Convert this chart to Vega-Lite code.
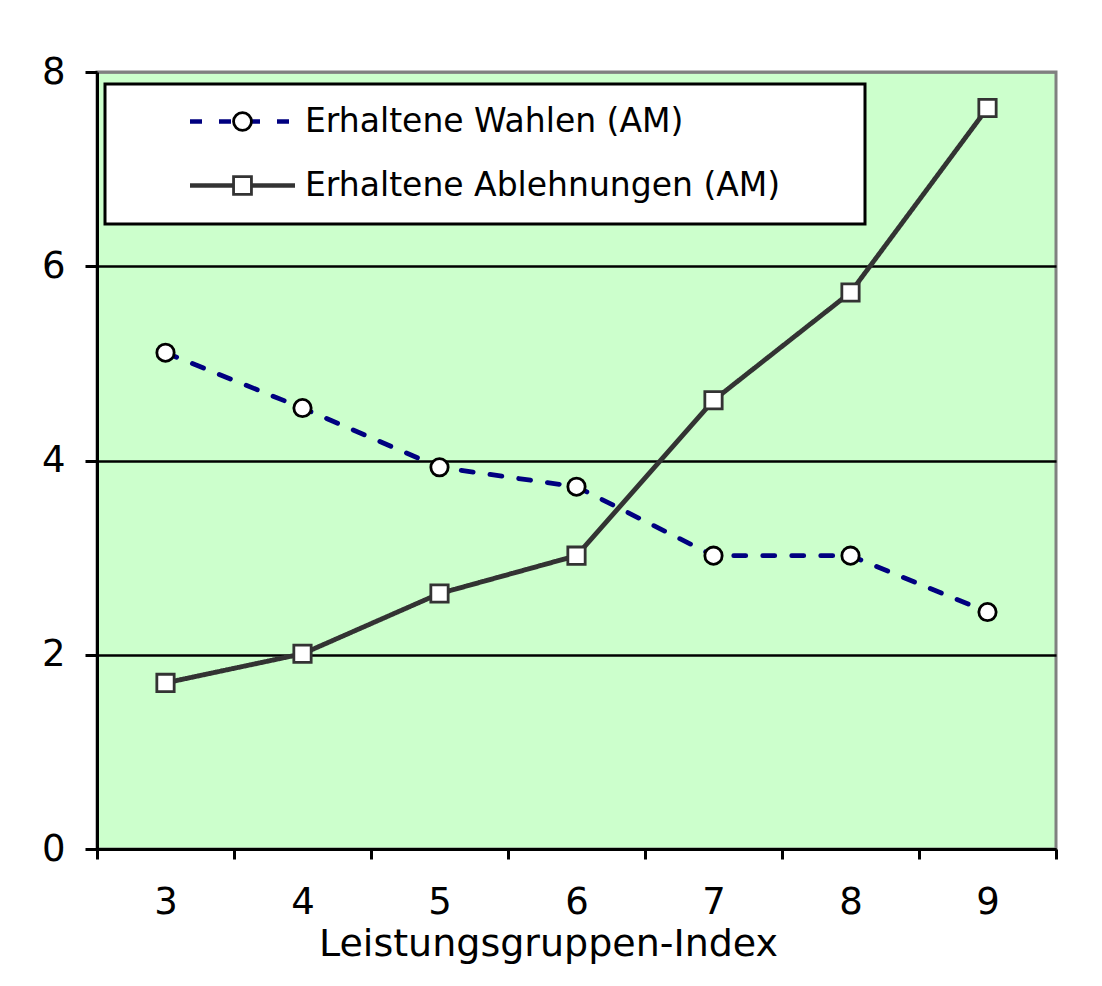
{
  "$schema": "https://vega.github.io/schema/vega-lite/v6.json",
  "autosize": {"type": "none"},
  "padding": {"left": 97, "top": 72, "right": 46, "bottom": 137},
  "width": 959,
  "height": 777,
  "background": "white",
  "config": {
    "view": {"fill": "#CCFFCC", "stroke": "#808080", "strokeWidth": 3},
    "font": "DejaVu Sans",
    "legend": {"strokeWidth": 3},
    "axis": {
      "labelFont": "DejaVu Sans",
      "labelFontSize": 37,
      "labelColor": "black",
      "titleFont": "DejaVu Sans",
      "titleFontSize": 38,
      "titleFontWeight": "normal",
      "titleColor": "black",
      "domainColor": "black",
      "domainWidth": 3,
      "tickColor": "black",
      "tickWidth": 3
    }
  },
  "data": {
    "values": [
      {"g": "3", "serie": "Erhaltene Wahlen (AM)", "v": 5.11},
      {"g": "4", "serie": "Erhaltene Wahlen (AM)", "v": 4.54},
      {"g": "5", "serie": "Erhaltene Wahlen (AM)", "v": 3.93},
      {"g": "6", "serie": "Erhaltene Wahlen (AM)", "v": 3.73},
      {"g": "7", "serie": "Erhaltene Wahlen (AM)", "v": 3.02},
      {"g": "8", "serie": "Erhaltene Wahlen (AM)", "v": 3.02},
      {"g": "9", "serie": "Erhaltene Wahlen (AM)", "v": 2.44},
      {"g": "3", "serie": "Erhaltene Ablehnungen (AM)", "v": 1.71},
      {"g": "4", "serie": "Erhaltene Ablehnungen (AM)", "v": 2.01},
      {"g": "5", "serie": "Erhaltene Ablehnungen (AM)", "v": 2.63},
      {"g": "6", "serie": "Erhaltene Ablehnungen (AM)", "v": 3.02},
      {"g": "7", "serie": "Erhaltene Ablehnungen (AM)", "v": 4.62},
      {"g": "8", "serie": "Erhaltene Ablehnungen (AM)", "v": 5.73},
      {"g": "9", "serie": "Erhaltene Ablehnungen (AM)", "v": 7.63}
    ]
  },
  "encoding": {
    "x": {
      "field": "g",
      "type": "ordinal",
      "bandPosition": 0.5,
      "scale": {"type": "band", "paddingInner": 0, "paddingOuter": 0},
      "axis": {
        "title": "Leistungsgruppen-Index",
        "labelAngle": 0,
        "tickBand": "extent",
        "tickSize": 10,
        "labelPadding": 25,
        "titlePadding": 5,
        "titleX": 451,
        "grid": false
      }
    },
    "y": {
      "field": "v",
      "type": "quantitative",
      "scale": {"domain": [0, 8], "nice": false, "zero": true},
      "axis": {
        "title": null,
        "values": [0, 2, 4, 6, 8],
        "tickSize": 12,
        "labelPadding": 20,
        "grid": true,
        "gridColor": {"condition": {"test": "datum.value == 8", "value": "#808080"}, "value": "black"},
        "gridWidth": 2.5
      }
    }
  },
  "layer": [
    {
      "mark": {"type": "line", "strokeCap": "round", "strokeJoin": "round", "strokeWidth": 4.8},
      "encoding": {
        "color": {
          "field": "serie",
          "type": "nominal",
          "scale": {"domain": ["Erhaltene Wahlen (AM)", "Erhaltene Ablehnungen (AM)"], "range": ["#000080", "#333333"]},
          "legend": {
            "title": null,
            "orient": "none",
            "legendX": 8,
            "legendY": 12,
            "zindex": 1,
            "padding": 21,
            "fillColor": "white",
            "strokeColor": "black",
            "symbolType": "M-3.889,0L3.889,0",
            "symbolSize": 729,
            "symbolStrokeWidth": 4.5,
            "symbolOffset": 100,
            "labelOffset": 46,
            "rowPadding": 30,
            "labelFont": "DejaVu Sans",
            "labelFontSize": 33,
            "labelColor": "black",
            "labelLimit": 0,
            "labelExpr": "datum.label + '\u00a0\u00a0\u00a0\u00a0\u00a0\u00a0\u200b'"
          }
        },
        "strokeDash": {
          "field": "serie",
          "type": "nominal",
          "scale": {"domain": ["Erhaltene Wahlen (AM)", "Erhaltene Ablehnungen (AM)"], "range": [[12, 17], [1, 0]]},
          "legend": null
        }
      }
    },
    {
      "mark": {"type": "point", "filled": true, "fill": "white", "size": 300, "strokeWidth": 2.8, "opacity": 1},
      "encoding": {
        "shape": {
          "field": "serie",
          "type": "nominal",
          "scale": {"domain": ["Erhaltene Wahlen (AM)", "Erhaltene Ablehnungen (AM)", "-"], "range": ["circle", "square", "circle"]},
          "legend": {
            "title": null,
            "orient": "none",
            "legendX": 8,
            "legendY": 12,
            "zindex": 2,
            "padding": 21,
            "values": ["Erhaltene Wahlen (AM)", "Erhaltene Ablehnungen (AM)"],
            "symbolSize": 320,
            "symbolStrokeWidth": 2.8,
            "symbolFillColor": "white",
            "symbolOffset": 100,
            "labelOffset": 46,
            "rowPadding": 30,
            "labelFont": "DejaVu Sans",
            "labelFontSize": 33,
            "labelOpacity": 0,
            "labelLimit": 0,
            "labelExpr": "datum.label + '\u00a0\u00a0\u00a0\u00a0\u00a0\u00a0\u200b'"
          }
        },
        "stroke": {
          "field": "serie",
          "type": "nominal",
          "scale": {"domain": ["Erhaltene Wahlen (AM)", "Erhaltene Ablehnungen (AM)", "-"], "range": ["#000000", "#333333", "#000000"]},
          "legend": null
        }
      }
    }
  ]
}
